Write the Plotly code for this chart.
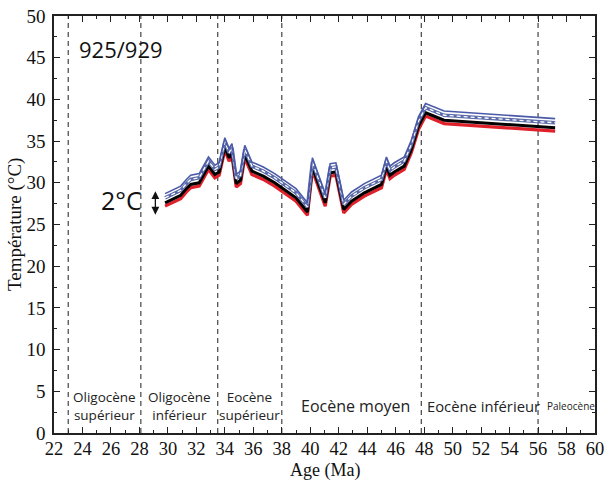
import plotly.graph_objects as go

# Ages (Ma) of data points
ages = [29.8, 30.4, 30.9, 31.3, 31.6, 32.2, 32.85, 33.3, 33.6, 34.0,
        34.3, 34.5, 34.8, 35.1, 35.4, 35.9, 36.7, 37.5, 38.2, 39.0,
        39.8, 40.15, 41.05, 41.4, 41.8, 42.35, 42.9, 43.8, 45.0, 45.35,
        45.6, 45.9, 46.6, 47.1, 47.6, 48.1, 49.4, 57.2]

temp_black = [27.6, 28.1, 28.5, 29.3, 29.8, 30.0, 32.0, 31.0, 31.3, 34.3,
              33.0, 33.6, 29.9, 30.3, 33.4, 31.4, 30.8, 30.0, 29.2, 28.2,
              26.5, 31.9, 27.6, 31.2, 31.3, 26.8, 27.8, 28.8, 29.8, 32.0,
              30.9, 31.3, 32.0, 34.0, 36.8, 38.4, 37.5, 36.6]

temp_blue = [28.7, 29.2, 29.6, 30.4, 30.9, 31.1, 33.1, 32.1, 32.4, 35.4,
             34.1, 34.7, 31.0, 31.4, 34.5, 32.5, 31.9, 31.1, 30.3, 29.3,
             27.6, 33.0, 28.7, 32.3, 32.4, 27.9, 28.9, 29.9, 30.9, 33.1,
             32.0, 32.4, 33.1, 35.1, 37.9, 39.5, 38.6, 37.7]

temp_dashed = [28.2, 28.7, 29.1, 29.9, 30.4, 30.6, 32.6, 31.6, 31.9, 34.9,
               33.6, 34.2, 30.5, 30.9, 34.0, 32.0, 31.4, 30.6, 29.8, 28.8,
               27.1, 32.5, 28.2, 31.8, 31.9, 27.4, 28.4, 29.4, 30.4, 32.6,
               31.5, 31.9, 32.6, 34.6, 37.4, 39.0, 38.1, 37.2]

temp_red = [27.2, 27.7, 28.1, 28.9, 29.4, 29.6, 31.6, 30.6, 30.9, 33.9,
            32.6, 33.2, 29.5, 29.9, 33.0, 31.0, 30.4, 29.6, 28.8, 27.8,
            26.1, 31.5, 27.2, 30.8, 30.9, 26.4, 27.4, 28.4, 29.4, 31.6,
            30.5, 30.9, 31.6, 33.6, 36.4, 38.0, 37.1, 36.2]

# Period boundaries (Ma)
boundaries = [23.0, 28.1, 33.5, 38.0, 47.8, 56.0]

# Period labels
period_labels = ["Oligocène<br>supérieur", "Oligocène<br>inférieur", "Eocène<br>supérieur",
                 "Eocène moyen", "Eocène inférieur", "Paleocène"]
period_x = [25.55, 30.8, 35.75, 43.2, 52.2, 58.3]
period_y = [3.2, 3.2, 3.2, 3.2, 3.2, 3.2]
period_size = [13.5, 13.5, 13.5, 16, 14.8, 10]

fig = go.Figure()

fig.add_trace(go.Scatter(x=ages, y=temp_red, mode="lines",
                         line=dict(color="#e0202a", width=3.2), hoverinfo="skip"))
fig.add_trace(go.Scatter(x=ages, y=temp_black, mode="lines",
                         line=dict(color="#000000", width=3), hoverinfo="skip"))
fig.add_trace(go.Scatter(x=ages, y=temp_dashed, mode="lines",
                         line=dict(color="#5b6aa8", width=3.5), hoverinfo="skip"))
fig.add_trace(go.Scatter(x=ages, y=temp_dashed, mode="lines",
                         line=dict(color="#ffffff", width=1.3, dash="4px,3px"), hoverinfo="skip"))
fig.add_trace(go.Scatter(x=ages, y=temp_blue, mode="lines",
                         line=dict(color="#4a5aa8", width=1.6), hoverinfo="skip"))

shapes = []
for b in boundaries:
    shapes.append(dict(type="line", xref="x", yref="paper", x0=b, x1=b, y0=0, y1=1,
                       line=dict(color="#444444", width=1.2, dash="5px,4px"), layer="below"))

annotations = []
for lab, px, py, ps in zip(period_labels, period_x, period_y, period_size):
    annotations.append(dict(x=px, y=py, xref="x", yref="y", text=lab, showarrow=False,
                            font=dict(family="Open Sans", size=ps, color="#222222"),
                            align="center"))

annotations.append(dict(x=23.6, y=46.0, xref="x", yref="y", text="925/929", showarrow=False,
                        xanchor="left", font=dict(family="Open Sans", size=22, color="#111111")))
annotations.append(dict(x=26.75, y=27.9, xref="x", yref="y", text="2°C", showarrow=False,
                        font=dict(family="Open Sans", size=25, color="#111111")))
annotations.append(dict(x=29.12, y=29.0, xref="x", yref="y", ax=29.12, ay=26.0,
                        axref="x", ayref="y", text="", showarrow=True,
                        arrowhead=2, arrowside="end+start", arrowsize=1.2, arrowwidth=1.3,
                        arrowcolor="#111111"))
annotations.append(dict(x=0.5, y=-0.089, xref="paper", yref="paper", text="Age (Ma)",
                        showarrow=False, yanchor="middle",
                        font=dict(family="Liberation Serif", size=18, color="#111111")))
annotations.append(dict(x=-0.073, y=0.5, xref="paper", yref="paper", text="Température (°C)",
                        showarrow=False, textangle=-90, xanchor="center",
                        font=dict(family="Liberation Serif", size=19, color="#111111")))

fig.update_layout(
    width=610, height=490,
    margin=dict(l=54, r=6, t=9, b=57),
    paper_bgcolor="white", plot_bgcolor="white",
    showlegend=False,
    shapes=shapes, annotations=annotations,
    xaxis=dict(range=[22, 60], tickmode="linear", tick0=22, dtick=2,
               ticks="inside", ticklen=6, tickwidth=1.2, tickcolor="#222",
               showline=True, linecolor="#222", linewidth=1.5, mirror="ticks",
               showgrid=False, zeroline=False, ticklabeloverflow="allow",
               ticklabelstandoff=-2,
               minor=dict(dtick=1, ticks="inside", ticklen=3, tickcolor="#222", showgrid=False),
               tickfont=dict(family="Liberation Serif", size=18.5, color="#111")),
    yaxis=dict(range=[0, 50], tickmode="linear", tick0=0, dtick=5,
               ticks="inside", ticklen=6, tickwidth=1.2, tickcolor="#222",
               showline=True, linecolor="#222", linewidth=1.5, mirror="ticks",
               showgrid=False, zeroline=False, ticklabeloverflow="allow",
               ticklabelstandoff=3,
               minor=dict(dtick=2.5, ticks="inside", ticklen=3, tickcolor="#222", showgrid=False),
               tickfont=dict(family="Liberation Serif", size=19, color="#111")),
)

fig.write_html("out.html", config={"displayModeBar": False},
               post_script="document.body.style.margin='0';document.body.style.padding='0';")
